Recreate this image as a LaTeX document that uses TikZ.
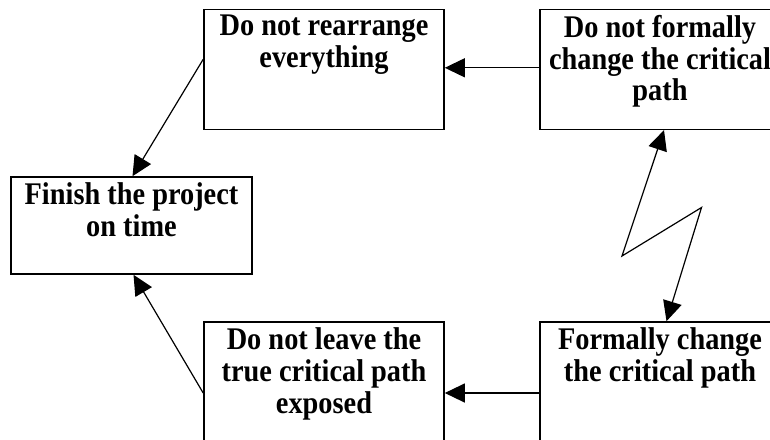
\documentclass[tikz,border=0pt]{standalone}
\usepackage{fontspec}
\setmainfont{Liberation Serif}[FakeStretch=0.9]
\usetikzlibrary{arrows.meta}

\begin{document}
\begin{tikzpicture}[x=1pt, y=-1pt,
every edge/.style = {draw, -{Triangle[length=20pt, width=19pt]}, line width=1.2pt, black},
         B/.style = {draw, line width=1.6pt, minimum width=240pt, minimum height=120pt,
                     inner sep=0pt},
         L/.style = {anchor=north, align=center, inner sep=6.5pt,
                     font=\bfseries\fontsize{31.5}{31.8}\selectfont}
                    ]
\useasboundingbox (0,0) rectangle (770,439);
\clip (0,0) rectangle (770,439);

\node (rearr)  [B, label={[L]north:{Do not rearrange\\ everything}}]                 at (324,69.3) {};
\node (nochg)  [B, label={[L]north:{Do not formally\\ change the critical\\ path}}]  at (660,69.3) {};
\node (finish) [B, minimum width=241pt, minimum height=97pt,
                label={[L]north:{Finish the project\\ on time}}]                     at (131.5,225.5) {};
\node (leave)  [B, label={[L]north:{Do not leave the\\ true critical path\\ exposed}}] at (324,382) {};
\node (chg)    [B, label={[L]north:{Formally change\\ the critical path}}]          at (660,382) {};

% zig-zag between the two right boxes
\coordinate (zl) at (622,256);
\coordinate (zr) at (701.5,207.5);

\draw   ([yshift=1.5pt]nochg.west) edge ([yshift=1.5pt]nochg.west -| rearr.east)
        ([yshift=-11pt]chg.west)   edge ([yshift=-11pt]chg.west -| leave.east)
        ([yshift=10pt]rearr.west)  edge ([xshift=1pt]finish.north)
        ([yshift=-11pt]leave.west) edge ([xshift=2pt]finish.south);
\draw[{Triangle[length=20pt, width=19pt]}-{Triangle[length=20pt, width=19pt]}, line width=1.2pt]
        ([xshift=4pt]nochg.south) -- (zl) -- (zr) -- ([xshift=6.5pt]chg.north);
\end{tikzpicture}
\end{document}
